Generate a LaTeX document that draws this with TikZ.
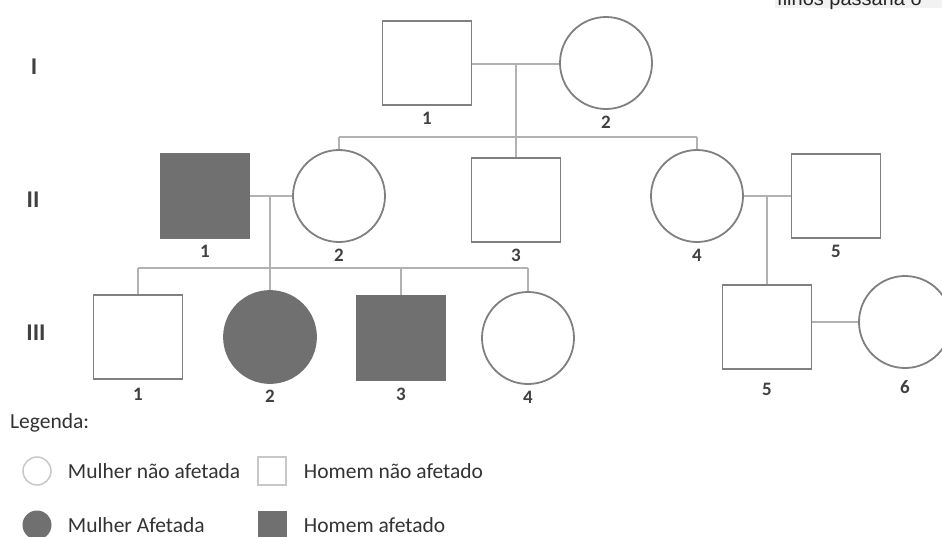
\documentclass[tikz,border=0pt]{standalone}
\usepackage{fontspec}
\setmainfont{Carlito}
\newfontfamily\arialfont{Liberation Sans}
\usetikzlibrary{positioning}
\definecolor{edgegray}{RGB}{128,128,128}
\definecolor{linegray}{RGB}{178,178,178}
\definecolor{fillgray}{RGB}{112,112,112}
\definecolor{keygray}{RGB}{200,200,200}
\tikzset{
  man/.style={draw=edgegray, line width=1.8pt, rectangle, minimum width=89pt, minimum height=84pt, inner sep=0pt},
  woman/.style={draw=edgegray, line width=1.8pt, circle, minimum size=92pt, inner sep=0pt},
  affected/.style={fill=fillgray, draw=fillgray},
  numlbl/.style={font=\bfseries\fontsize{19}{21}\selectfont, text=black!75, inner sep=0pt},
  gen/.style={font=\bfseries\fontsize{24}{26}\selectfont, text=black!75, inner sep=0pt},
  keytext/.style={font=\fontsize{21.5}{23}\selectfont, text=black!80, anchor=west, inner sep=0pt},
  tie/.style={draw=linegray, line width=1.3pt},
  every label/.style={numlbl},
  label distance=6pt
}
\begin{document}
\begin{tikzpicture}[x=1pt,y=1pt,yscale=-1]
\clip (0,0) rectangle (942,536);
\fill[white] (0,0) rectangle (942,536);

% clipped line of text at the top
\fill[black!5] (775,0) rectangle (942,8);
\node[anchor=base west, inner sep=0pt, font=\arialfont\fontsize{20}{22}\selectfont, text=black!85] (toptext) at (777,5) {filhos passaria o};

% generation labels
\node[gen] (genI) at (34,67) {I};
\node[gen] (genII) at (33,200) {II};
\node[gen] (genIII) at (36,333) {III};

% generation I
\node[man, label=below:1] (i1) at (427,63) {};
\node[woman, label=below:2] (i2) at (606,63) {};

% generation II
\node[man, affected, label=below:1] (ii1) at (205,196) {};
\node[woman, label=below:2] (ii2) at (339,196) {};
\node[man, label=below:3] (ii3) at (516,200) {};
\node[woman, label=below:4] (ii4) at (697,196) {};
\node[man, label=below:5] (ii5) at (836,196) {};

% generation III
\node[man, label={[label distance=8pt]below:1}] (iii1) at (138,337) {};
\node[woman, affected, label=below:2] (iii2) at (270,337) {};
\node[man, affected, label={[label distance=7pt]below:3}] (iii3) at (401,338) {};
\node[woman, label=below:4] (iii4) at (528,338) {};
\node[man, label={[label distance=13pt]below:5}] (iii5) at (767,327) {};
\node[woman, label={[label distance=11pt]below:6}] (iii6) at (905,322) {};

% couples and sibships
\coordinate (mI) at (516,64);
\coordinate (sibII) at (516,137);
\draw[tie] (i1.east |- mI) -- (i2.west |- mI);
\draw[tie] (mI) -- (sibII);
\draw[tie] (ii2.north |- sibII) -- (ii4.north |- sibII);
\draw[tie] (ii2.north |- sibII) -- (ii2.north);
\draw[tie] (ii3.north |- sibII) -- (ii3.north);
\draw[tie] (ii4.north |- sibII) -- (ii4.north);

\coordinate (mII) at (270,196);
\coordinate (sibIII) at (270,268);
\draw[tie] (ii1.east) -- (ii2.west);
\draw[tie] (mII) -- (sibIII);
\draw[tie] (iii1.north |- sibIII) -- (iii4.north |- sibIII);
\foreach \k in {iii1,iii2,iii3,iii4}
  \draw[tie] (\k.north |- sibIII) -- (\k.north);

\coordinate (mIIb) at (767,196);
\draw[tie] (ii4.east) -- (ii5.west);
\draw[tie] (mIIb) -- (iii5.north);
\draw[tie] (iii5.east |- iii6.west) -- (iii6.west);

% legend
\node[keytext] (legtitle) at (10,423) {Legenda:};
\node[circle, draw=keygray, line width=1.5pt, minimum size=28pt, inner sep=0pt] (kwoman) at (37,471) {};
\node[keytext, right=16pt of kwoman] (kwomantxt) {Mulher não afetada};
\node[rectangle, draw=keygray, line width=1.5pt, minimum size=28pt, inner sep=0pt] (kman) at (272,471) {};
\node[keytext, right=17pt of kman] (kmantxt) {Homem não afetado};
\node[circle, fill=fillgray, minimum size=29pt, inner sep=0pt] (kwomanaff) at (37,525) {};
\node[keytext, right=16pt of kwomanaff] (kwomanafftxt) {Mulher Afetada};
\node[rectangle, fill=fillgray, minimum size=29pt, inner sep=0pt] (kmanaff) at (272,525) {};
\node[keytext, right=17pt of kmanaff] (kmanafftxt) {Homem afetado};
\end{tikzpicture}
\end{document}
